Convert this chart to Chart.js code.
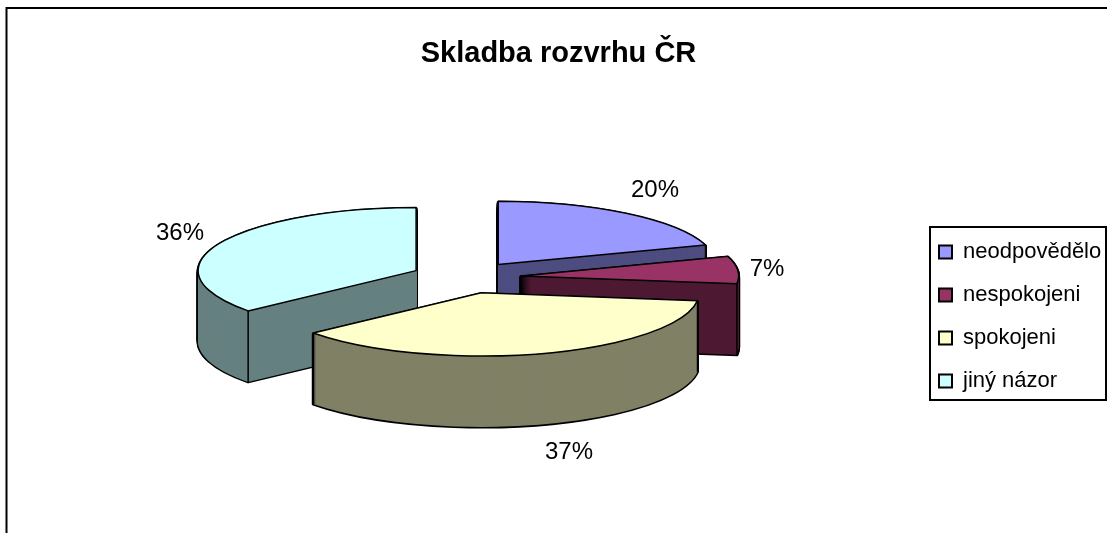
<!DOCTYPE html>
<html><head><meta charset="utf-8">
<script src="https://cdn.jsdelivr.net/npm/chart.js@4"></script>
<style>html,body{margin:0;padding:0;background:#fff;overflow:hidden}canvas{display:block}</style>
</head><body><canvas id="c" width="1107" height="533"></canvas>
<script>
const categories = ["neodpovědělo", "nespokojeni", "spokojeni", "jiný názor"];
const shares = [20, 7, 37, 36];
const topColors = ["#9999FF", "#993366", "#FFFFCC", "#CCFFFF"];
const sideColors = ["#4D4D80", "#4D1933", "#808066", "#668080"];
const chartTitle = "Skladba rozvrhu ČR";
const labelAnchors = [[655,190],[767,269],[569,452],[180,233]];
const drawOrder = [0, 1, 3, 2];
const explode = 55, squash = 0.29, depth = 71, nudgeX = 4, FONT = '"Liberation Sans", Arial, sans-serif';

const pie3d = {
  id: 'pie3d',
  beforeDraw(chart) {
    const c = chart.ctx;
    c.save();
    c.fillStyle = '#fff'; c.fillRect(0, 0, chart.width, chart.height);
    c.strokeStyle = '#000'; c.lineWidth = 2;
    c.beginPath(); c.moveTo(6.5, 533); c.lineTo(6.5, 8); c.lineTo(1107, 8); c.stroke();
    c.restore();
  },
  afterLayout(chart) { chart.legend.left = 918; chart.legend.top = 220; },
  beforeDatasetsDraw(chart) {
    const c = chart.ctx, arcs = chart.getDatasetMeta(0).data;
    const path = (a, cx, cy) => {
      c.beginPath(); c.moveTo(cx, cy);
      c.ellipse(cx, cy, a.outerRadius, a.outerRadius * squash, 0, a.startAngle, a.endAngle);
      c.closePath();
    };
    drawOrder.forEach(i => {
      const a = arcs[i], mid = (a.startAngle + a.endAngle) / 2;
      const cx = a.x + nudgeX + Math.cos(mid) * explode;
      const cy = a.y + Math.sin(mid) * explode * squash;
      c.save(); c.lineJoin = 'round'; c.strokeStyle = '#000'; c.fillStyle = sideColors[i];
      c.lineWidth = 3;
      for (let z = depth; z >= 1; z--) { path(a, cx, cy + z); c.stroke(); }
      for (let z = depth; z >= 1; z--) { path(a, cx, cy + z); c.fill(); }
      c.lineWidth = 1.5;
      [a.startAngle, a.endAngle].forEach(t => {
        if (Math.sin(t) > 0) {
          const x = cx + Math.cos(t) * a.outerRadius, y = cy + Math.sin(t) * a.outerRadius * squash;
          c.beginPath(); c.moveTo(x, y); c.lineTo(x, y + depth); c.stroke();
        }
      });
      c.save();
      c.translate(cx, cy); c.scale(1, squash); c.translate(-a.x, -a.y);
      a.draw(c);
      c.restore();
      path(a, cx, cy); c.stroke();
      c.restore();
    });
    return false;
  },
  afterDraw(chart) {
    const c = chart.ctx;
    c.save(); c.font = '24px ' + FONT; c.fillStyle = '#000'; c.textAlign = 'center'; c.textBaseline = 'middle';
    shares.forEach((v, i) => c.fillText(v + '%', labelAnchors[i][0], labelAnchors[i][1]));
    c.strokeStyle = '#000'; c.lineWidth = 2; c.strokeRect(930, 227, 176, 173); c.restore();
  }
};

new Chart(document.getElementById('c'), {
  type: 'pie',
  data: { labels: categories, datasets: [{ data: shares, backgroundColor: topColors, borderWidth: 0 }] },
  options: {
    responsive: false, animation: false, rotation: 0, radius: 218,
    layout: { padding: { left: 10, bottom: 50 } },
    events: [],
    plugins: {
      tooltip: { enabled: false },
      title: { display: true, text: chartTitle, color: '#000', font: { family: FONT, size: 29, weight: 'bold' }, padding: { top: 37, bottom: 0 } },
      legend: {
        position: 'right', align: 'start',
        labels: {
          boxWidth: 13, boxHeight: 13, padding: 21, color: '#000', font: { family: FONT, size: 22 },
          generateLabels(chart) {
            return Chart.overrides.pie.plugins.legend.labels.generateLabels(chart).map(l => ({ ...l, lineWidth: 2, strokeStyle: '#000' }));
          }
        }
      }
    }
  },
  plugins: [pie3d]
});
</script></body></html>
